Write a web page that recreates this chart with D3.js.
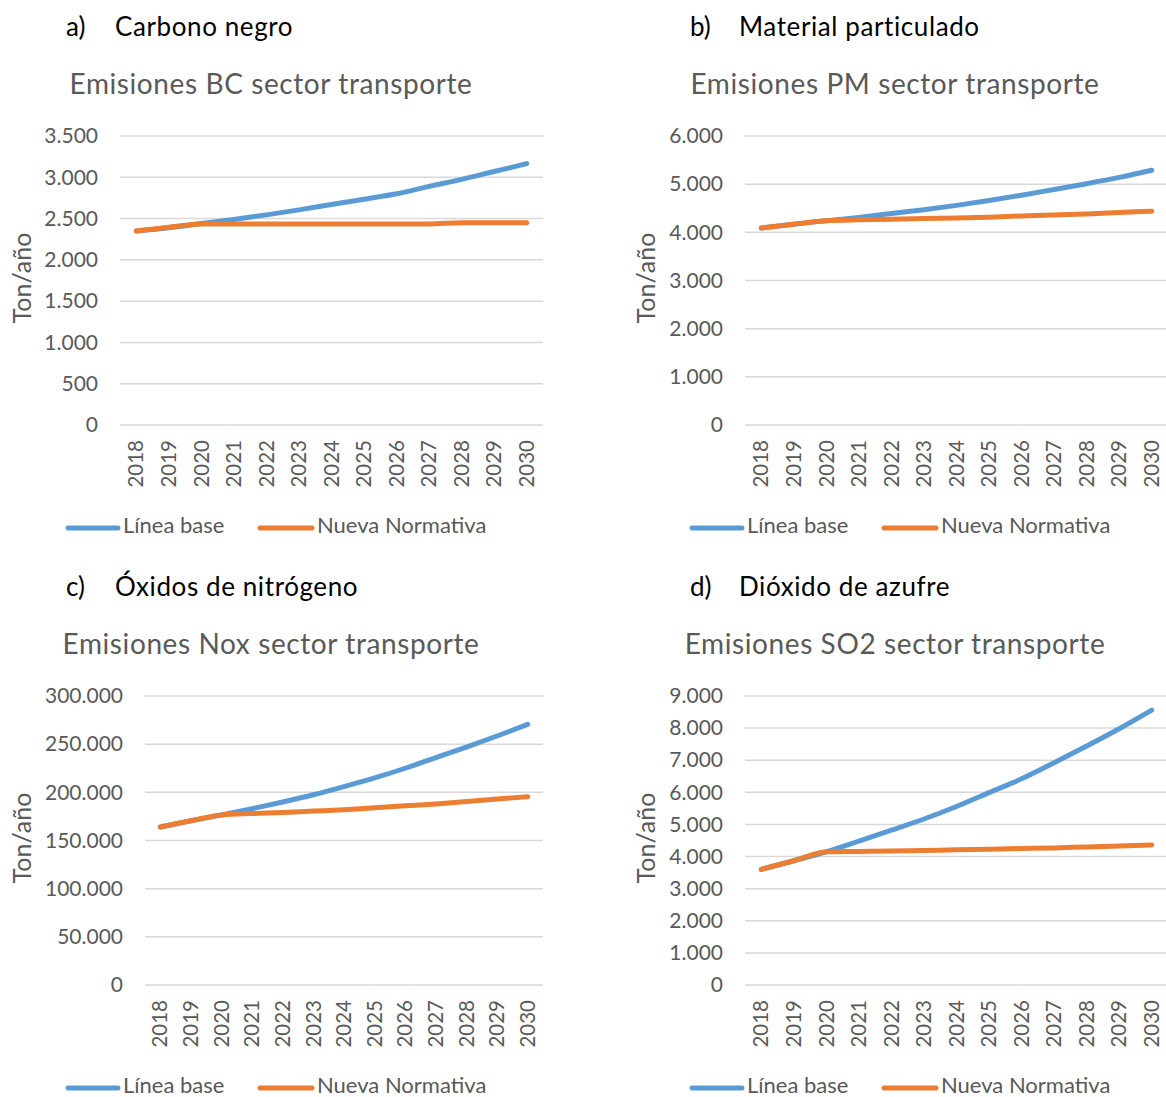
<!DOCTYPE html>
<html><head><meta charset="utf-8">
<script src="https://cdn.jsdelivr.net/npm/d3@7"></script>
<style>body{margin:0;background:#fff}svg{display:block}text{font-family:Lato,"Noto Sans",sans-serif}</style>
</head><body><svg id="c" width="1166" height="1097"></svg>
<script>
const years = ["2018","2019","2020","2021","2022","2023","2024","2025","2026","2027","2028","2029","2030"];
const seriesNames = ["Línea base","Nueva Normativa"];
const bcBase = [2350,2390,2440,2490,2545,2605,2670,2735,2800,2890,2975,3070,3165];
const bcNorm = [2350,2395,2435,2435,2435,2435,2435,2435,2435,2435,2450,2450,2450];
const pmBase = [4090,4170,4240,4310,4390,4470,4560,4660,4770,4890,5010,5140,5290];
const pmNorm = [4090,4170,4240,4260,4270,4285,4300,4315,4340,4360,4380,4410,4440];
const noxBase = [164000,170500,176500,183000,190000,197500,206000,215000,225000,236000,247000,258500,270500];
const noxNorm = [164000,170500,176500,178000,179000,180500,182000,184000,186000,188000,190500,193000,195500];
const so2Base = [3600,3870,4150,4480,4820,5170,5560,5990,6420,6920,7440,7980,8560];
const so2Norm = [3600,3870,4150,4160,4170,4190,4210,4230,4250,4270,4300,4330,4360];
const bcTicks = [0,500,1000,1500,2000,2500,3000,3500];
const pmTicks = [0,1000,2000,3000,4000,5000,6000];
const noxTicks = [0,50000,100000,150000,200000,250000,300000];
const so2Ticks = [0,1000,2000,3000,4000,5000,6000,7000,8000,9000];
const panelLetters = ["a)","b)","c)","d)"];
const panelNames = ["Carbono negro","Material particulado","Óxidos de nitrógeno","Dióxido de azufre"];
const chartTitles = ["Emisiones BC sector transporte","Emisiones PM sector transporte","Emisiones Nox sector transporte","Emisiones SO2 sector transporte"];
const yLabel = "Ton/año";

const colors = ["#5B9BD5","#ED7D31"];
const grey = "#595959";
const loc = d3.formatLocale({decimal:",",thousands:".",grouping:[3],currency:["",""]});
const fmt = loc.format(",d");

const panels = [
  {base:bcBase, norm:bcNorm, ticks:bcTicks, ox:0, oy:0, x0:120, x1:543},
  {base:pmBase, norm:pmNorm, ticks:pmTicks, ox:624, oy:0, x0:121, x1:544},
  {base:noxBase, norm:noxNorm, ticks:noxTicks, ox:0, oy:560, x0:145, x1:543},
  {base:so2Base, norm:so2Norm, ticks:so2Ticks, ox:624, oy:560, x0:121, x1:544}
];

const svg = d3.select("#c");
panels.forEach((p,i)=>{
  const g = svg.append("g").attr("transform",`translate(${p.ox},${p.oy})`);
  // panel heading
  g.append("text").attr("x",66).attr("y",36).attr("font-size",26).attr("fill","#000").text(panelLetters[i]);
  g.append("text").attr("x",115).attr("y",36).attr("font-size",26).attr("letter-spacing",0.6).attr("fill","#000").text(panelNames[i]);
  // chart title
  g.append("text").attr("x",271).attr("y",94).attr("text-anchor","middle").attr("font-size",28)
    .attr("letter-spacing",0.6).attr("fill",grey).text(chartTitles[i]);

  const x = d3.scaleBand().domain(years).range([p.x0,p.x1]);
  const y = d3.scaleLinear().domain([0,d3.max(p.ticks)]).range([425,136]);

  // gridlines
  g.append("g").selectAll("line").data(p.ticks).join("line")
    .attr("x1",p.x0).attr("x2",p.x1).attr("y1",d=>y(d)).attr("y2",d=>y(d))
    .attr("stroke","#D9D9D9").attr("stroke-width",1.5);

  // y axis
  const ya = g.append("g").attr("transform",`translate(${p.x0-8},0)`)
    .call(d3.axisLeft(y).tickValues(p.ticks).tickFormat(fmt).tickSize(0).tickPadding(14));
  ya.select(".domain").remove();
  ya.selectAll("text").attr("font-size",21).attr("fill",grey).attr("font-family","Lato");

  // x axis
  const xa = g.append("g").attr("transform",`translate(0,425)`)
    .call(d3.axisBottom(x).tickSize(0).tickPadding(0));
  xa.select(".domain").remove();
  xa.selectAll("text").attr("font-size",20.5).attr("fill",grey).attr("font-family","Lato")
    .attr("transform","rotate(-90)").attr("text-anchor","end").attr("dx","-15").attr("dy","0.35em").attr("y",0);

  // y label
  g.append("text").attr("transform",`translate(${31},278) rotate(-90)`).attr("text-anchor","middle")
    .attr("font-size",25).attr("fill",grey).text(yLabel);

  // lines
  const line = d3.line().x((d,j)=>x(years[j])+x.bandwidth()/2).y(d=>y(d)).curve(d3.curveMonotoneX);
  [p.base,p.norm].forEach((s,k)=>{
    g.append("path").datum(s).attr("d",line).attr("fill","none").attr("stroke",colors[k])
      .attr("stroke-width",5).attr("stroke-linecap","round").attr("stroke-linejoin","round");
  });

  // legend
  const lg = g.append("g").attr("transform","translate(0,528)");
  const lx = [[68,118,123],[260,312,317]];
  seriesNames.forEach((n,k)=>{
    lg.append("line").attr("x1",lx[k][0]).attr("x2",lx[k][1]).attr("y1",0).attr("y2",0)
      .attr("stroke",colors[k]).attr("stroke-width",5).attr("stroke-linecap","round");
    lg.append("text").attr("x",lx[k][2]).attr("y",4.5).attr("font-size",22).attr("fill",grey).text(n);
  });
});
</script></body></html>
